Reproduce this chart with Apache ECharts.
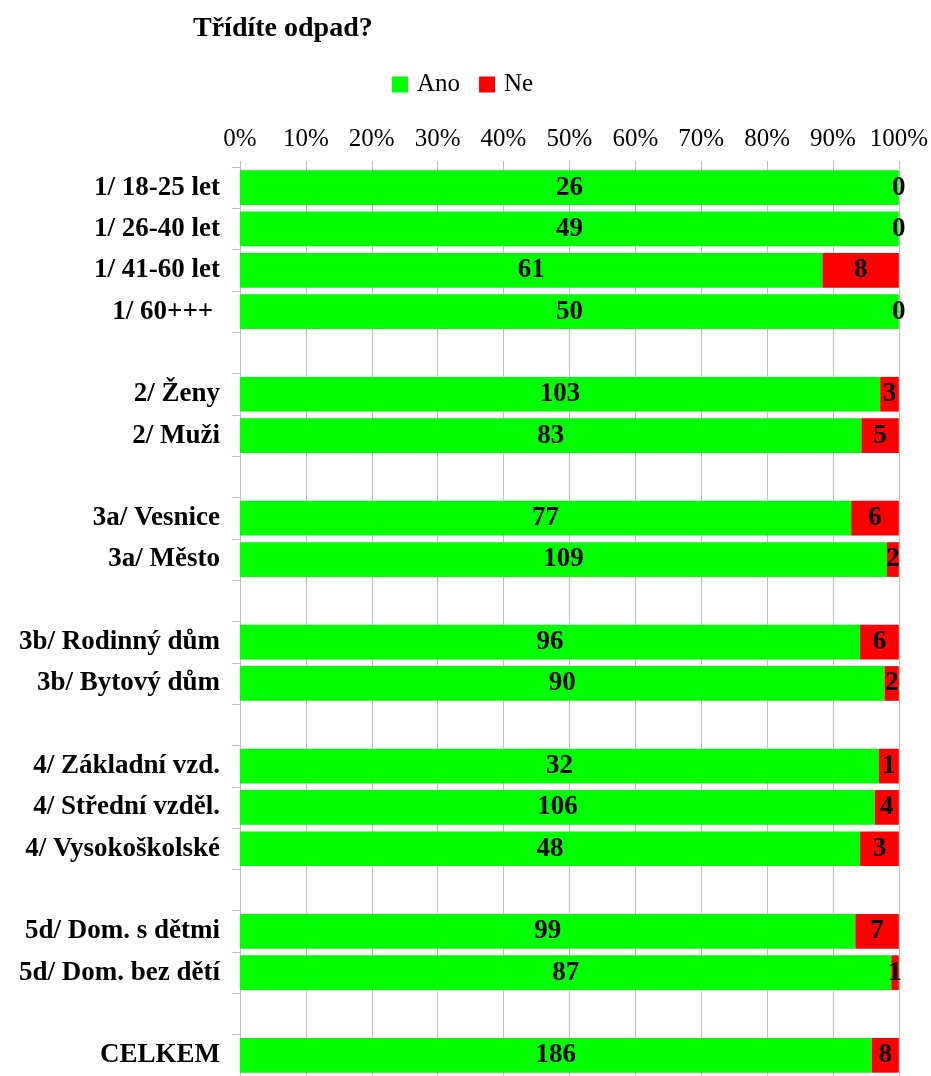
<!DOCTYPE html>
<html>
<head>
<meta charset="utf-8">
<script src="https://cdn.jsdelivr.net/npm/echarts@6/dist/echarts.min.js"></script>
<style>
  html, body { margin: 0; padding: 0; background: #fff; }
  #odpad_chart { width: 931px; height: 1076px; }
</style>
</head>
<body>
<div id="odpad_chart"></div>
<script>
  // kategorie, prázdné řádky oddělují skupiny
  let categories = ['1/ 18-25 let', '1/ 26-40 let', '1/ 41-60 let', '1/ 60+++ ', '',
    '2/ Ženy', '2/ Muži', '',
    '3a/ Vesnice', '3a/ Město', '',
    '3b/ Rodinný dům', '3b/ Bytový dům', '',
    '4/ Základní vzd.', '4/ Střední vzděl.', '4/ Vysokoškolské', '',
    '5d/ Dom. s dětmi', '5d/ Dom. bez dětí', '',
    'CELKEM']
  let ano = [26, 49, 61, 50, null, 103, 83, null, 77, 109, null, 96, 90, null, 32, 106, 48, null, 99, 87, null, 186]
  let ne = [0, 0, 8, 0, null, 3, 5, null, 6, 2, null, 6, 2, null, 1, 4, 3, null, 7, 1, null, 8]
  let xTicks = [0, 10, 20, 30, 40, 50, 60, 70, 80, 90, 100]

  let font = '"Liberation Serif", "Times New Roman", serif'

  function pct (arr, i) {
    if (arr[i] === null) return null
    return arr[i] / (ano[i] + ne[i]) * 100
  }

  let myChart = echarts.init(document.getElementById('odpad_chart'))

  let labelStyle = {
    show: true,
    position: 'inside',
    color: '#000',
    fontFamily: font,
    fontWeight: 'bold',
    fontSize: 27
  }

  let option = {
    animation: false,
    title: {
      text: 'Třídíte odpad?',
      left: 188,
      top: 10,
      textStyle: {
        fontFamily: font,
        fontWeight: 'bold',
        fontSize: 28,
        color: '#000'
      }
    },
    legend: {
      left: 387,
      top: 67,
      itemWidth: 16,
      itemHeight: 16,
      itemGap: 19,
      icon: 'rect',
      textStyle: {
        fontFamily: font,
        fontSize: 25,
        color: '#000',
        padding: [0, 0, 0, 4]
      },
      data: ['Ano', 'Ne']
    },
    grid: {
      left: 240,
      right: 32,
      top: 167,
      height: 913,
      containLabel: false
    },
    xAxis: {
      type: 'value',
      position: 'top',
      min: xTicks[0],
      max: xTicks[xTicks.length - 1],
      interval: 10,
      axisLine: { show: false },
      axisTick: {
        show: true,
        length: 6,
        lineStyle: { color: '#bfbfbf' }
      },
      axisLabel: {
        formatter: '{value}%',
        fontFamily: font,
        fontSize: 25,
        color: '#000',
        margin: 15
      },
      splitLine: {
        show: true,
        lineStyle: { color: '#bfbfbf', width: 1 }
      }
    },
    yAxis: {
      type: 'category',
      inverse: true,
      data: categories,
      axisLine: {
        show: true,
        lineStyle: { color: '#bfbfbf' }
      },
      axisTick: {
        show: true,
        length: 8,
        lineStyle: { color: '#bfbfbf' }
      },
      axisLabel: {
        fontFamily: font,
        fontWeight: 'bold',
        fontSize: 27,
        color: '#000',
        margin: 20,
        interval: 0
      }
    },
    series: [{
      name: 'Ano',
      type: 'bar',
      stack: 'total',
      barCategoryGap: '16%',
      itemStyle: { color: '#00ff00' },
      label: Object.assign({}, labelStyle, {
        formatter: function (p) { return ano[p.dataIndex] }
      }),
      data: ano.map(function (v, i) { return pct(ano, i) })
    }, {
      name: 'Ne',
      type: 'bar',
      stack: 'total',
      barCategoryGap: '16%',
      itemStyle: { color: '#ff0000' },
      label: Object.assign({}, labelStyle, {
        formatter: function (p) { return ne[p.dataIndex] }
      }),
      data: ne.map(function (v, i) { return pct(ne, i) })
    }]
  }

  myChart.setOption(option)
</script>
</body>
</html>
